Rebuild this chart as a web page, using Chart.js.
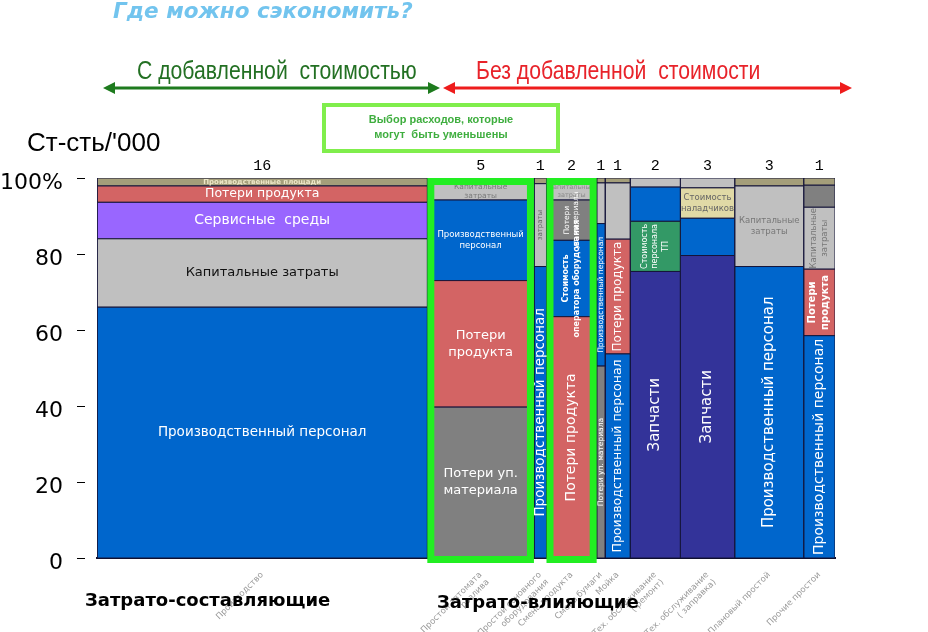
<!DOCTYPE html>
<html><head><meta charset="utf-8">
<script src="https://cdn.jsdelivr.net/npm/chart.js@4.4.1/dist/chart.umd.min.js"></script>
<style>
html,body{margin:0;padding:0;background:#fff;width:928px;height:632px;overflow:hidden;}
#wrap{position:relative;width:928px;height:632px;}
canvas{position:absolute;left:0;top:0;}
.t{position:absolute;white-space:nowrap;line-height:1;}
.n{transform:scaleX(0.815);transform-origin:0 0;}
</style></head><body>
<div id="wrap">
<canvas id="c" width="928" height="632"></canvas>
<div class="t" style="left:113px;top:-2px;font:italic bold 21.5px 'DejaVu Sans';color:#72c4ee;">Где можно сэкономить?</div>
<div class="t n" style="left:137px;top:55px;font:26px 'Liberation Sans';color:#237023;">С добавленной&nbsp; стоимостью</div>
<div class="t n" style="left:476px;top:55px;font:26px 'Liberation Sans';color:#e8232a;">Без добавленной&nbsp; стоимости</div>
<svg width="928" height="632" style="position:absolute;left:0;top:0;pointer-events:none">
  <line x1="112" y1="88" x2="431" y2="88" stroke="#1e7b1e" stroke-width="3"/>
  <polygon points="103,88 115,82 115,94" fill="#1e7b1e"/>
  <polygon points="440,88 428,82 428,94" fill="#1e7b1e"/>
  <line x1="452" y1="88" x2="843" y2="88" stroke="#ee1c1c" stroke-width="3"/>
  <polygon points="443,88 455,82 455,94" fill="#ee1c1c"/>
  <polygon points="852,88 840,82 840,94" fill="#ee1c1c"/>
</svg>
<div style="position:absolute;left:322px;top:103px;width:238px;height:50px;box-sizing:border-box;border:4px solid #80ee4c;text-align:center;font:bold 11px 'Liberation Sans';color:#3fae3f;line-height:15px;padding-top:5px;">Выбор расходов, которые<br>могут&nbsp; быть уменьшены</div>
<div class="t" style="left:27px;top:127px;font:26px 'Liberation Sans';color:#000;">Ст-сть/'000</div>
<div class="t" style="left:85px;top:589px;font:bold 18px 'DejaVu Sans';color:#000;">Затрато-составляющие</div>
<div class="t" style="left:437px;top:591px;font:bold 18px 'DejaVu Sans';color:#000;">Затрато-влияющие</div>
</div>
<script>
// ---------- DATA ----------
const colNames = [
  ['Производство'],
  ['Простой автомата', 'розлива'],
  ['Простой основного', 'оборудования'],
  ['Смена продукта'],
  ['Смена бумаги'],
  ['Мойка'],
  ['Тех. обслуживание', '( ремонт)'],
  ['Тех. обслуживание', '( заправка)'],
  ['Плановый простой'],
  ['Прочие простои']
];
const colWidths = [15.8, 5.1, 0.6, 2.4, 0.4, 1.2, 2.4, 2.6, 3.3, 1.5];
const colTotals = ['16', '5', '1', '2', '1', '1', '2', '3', '3', '1'];
const segValues = [
  [66, 18, 9.6, 4.3, 2.1],
  [39.7, 33.3, 21.2, 4.5, 1.3],
  [76.7, 21.8, 1.5],
  [63.5, 20.1, 10.6, 4.5, 1.3],
  [50.5, 37.5, 10.7, 1.3],
  [53.7, 30.2, 14.8, 1.3],
  [75.4, 13.2, 9.0, 2.4],
  [79.6, 9.8, 8.0, 2.6],
  [76.7, 21.2, 2.1],
  [58.5, 17.5, 16.3, 5.8, 1.9]
];
const segTypes = [
  ['Производственный персонал', 'Капитальные затраты', 'Сервисные среды', 'Потери продукта', 'Производственные площади'],
  ['Потери уп. материала', 'Потери продукта', 'Производственный персонал', 'Капитальные затраты', 'Производственные площади'],
  ['Производственный персонал', 'Капитальные затраты', 'Производственные площади'],
  ['Потери продукта', 'Стоимость оператора оборудования', 'Потери уп. материала', 'Капитальные затраты', 'Производственные площади'],
  ['Потери уп. материала', 'Производственный персонал', 'Капитальные затраты', 'Производственные площади'],
  ['Производственный персонал', 'Потери продукта', 'Капитальные затраты', 'Производственные площади'],
  ['Запчасти', 'Стоимость персонала ТП', 'Производственный персонал', 'Капитальные затраты'],
  ['Запчасти', 'Производственный персонал', 'Стоимость наладчиков', 'Капитальные затраты'],
  ['Производственный персонал', 'Капитальные затраты', 'Производственные площади'],
  ['Производственный персонал', 'Потери продукта', 'Капитальные затраты', 'Потери уп. материала', 'Производственные площади']
];
const segText = [
  ['Производственный персонал', 'Капитальные затраты', 'Сервисные  среды', 'Потери продукта', 'Производственные площади'],
  ['Потери уп.\nматериала', 'Потери\nпродукта', 'Производственный\nперсонал', 'Капитальные\nзатраты', null],
  ['Производственный персонал', 'затраты', null],
  ['Потери продукта', 'Стоимость\nоператора оборудования', 'Потери\nуп. материала', 'Капитальные\nзатраты', null],
  ['Потери уп. материала', 'Производственный персонал', null, null],
  ['Производственный персонал', 'Потери продукта', null, null],
  ['Запчасти', 'Стоимость\nперсонала\nТП', null, null],
  ['Запчасти', null, 'Стоимость\nналадчиков', null],
  ['Производственный персонал', 'Капитальные\nзатраты', null],
  ['Производственный персонал', 'Потери\nпродукта', 'Капитальные\nзатраты', null, null]
];

// ---------- STYLE ----------
const typeColors = {
  'Производственный персонал': '#0066cc',
  'Капитальные затраты': '#c0c0c0',
  'Сервисные среды': '#9966ff',
  'Потери продукта': '#d36464',
  'Производственные площади': '#a49e7a',
  'Потери уп. материала': '#808080',
  'Стоимость оператора оборудования': '#0066cc',
  'Запчасти': '#333399',
  'Стоимость персонала ТП': '#339966',
  'Стоимость наладчиков': '#e0d9a6'
};
// r: rotated, s: font size, c: colour, b: bold
const cellStyle = [
  [{s:13.5,c:'#fff'},{s:13,c:'#111'},{s:14,c:'#fff'},{s:12.5,c:'#fff'},{s:7,c:'#eee8c8',b:1}],
  [{s:13,c:'#fff'},{s:13,c:'#fff'},{s:8.5,c:'#fff'},{s:7.5,c:'#7a7a7a'},null],
  [{r:1,s:13.5,c:'#fff'},{r:1,s:7,c:'#666'},null],
  [{r:1,s:14,c:'#fff'},{r:1,s:8,c:'#fff',b:1},{r:1,s:7.5,c:'#fff'},{s:6.5,c:'#888'},null],
  [{r:1,s:7.5,c:'#fff'},{r:1,s:7.5,c:'#fff'},null,null],
  [{r:1,s:12.5,c:'#fff'},{r:1,s:12,c:'#fff'},null,null],
  [{r:1,s:15,c:'#fff'},{r:1,s:8,c:'#fff'},null,null],
  [{r:1,s:15,c:'#fff'},null,{s:8.5,c:'#666'},null],
  [{r:1,s:15,c:'#fff'},{s:8.5,c:'#777'},null],
  [{r:1,s:14,c:'#fff'},{r:1,s:10,c:'#fff',b:1},{r:1,s:8.5,c:'#777'},null,null]
];
const highlightCols = [1, 3];

// ---------- BUILD ----------
const total = colWidths.reduce((a, b) => a + b, 0);
const centers = [];
const datasets = [];
{
  let cx = 0;
  colWidths.forEach((w, i) => {
    centers.push(cx + w / 2);
    let cy = 0;
    segValues[i].forEach((v, j) => {
      const x0 = cx, x1 = cx + w, y0 = cy, y1 = cy + v;
      datasets.push({
        label: segTypes[i][j],
        data: [{x:x0,y:y0},{x:x1,y:y0},{x:x1,y:y1},{x:x0,y:y1},{x:x0,y:y0}],
        fill: 'shape',
        backgroundColor: typeColors[segTypes[i][j]],
        borderColor: '#15153a',
        borderWidth: 1,
        pointRadius: 0,
        pointHoverRadius: 0,
        tension: 0
      });
      cy += v;
    });
    cx += w;
  });
}

const labelsPlugin = {
  id: 'cellLabels',
  afterDatasetsDraw(chart) {
    const {ctx, chartArea} = chart;
    const xs = chart.scales.x, ys = chart.scales.y;
    let cx = 0;
    colWidths.forEach((w, i) => {
      const px0 = xs.getPixelForValue(cx), px1 = xs.getPixelForValue(cx + w);
      let cy = 0;
      segValues[i].forEach((v, j) => {
        const py0 = ys.getPixelForValue(cy), py1 = ys.getPixelForValue(cy + v);
        cy += v;
        const txt = segText[i][j], st = cellStyle[i][j];
        if (!txt || !st) return;
        const lines = txt.split('\n');
        ctx.save();
        ctx.translate((px0 + px1) / 2, (py0 + py1) / 2);
        if (st.r) ctx.rotate(-Math.PI / 2);
        ctx.font = (st.b ? 'bold ' : '') + st.s + 'px "DejaVu Sans"';
        ctx.fillStyle = st.c;
        ctx.textAlign = 'center';
        ctx.textBaseline = 'middle';
        const lh = st.s * 1.3;
        lines.forEach((l, k) => ctx.fillText(l, 0, (k - (lines.length - 1) / 2) * lh));
        ctx.restore();
      });
      ctx.save();
      ctx.font = '15px "Liberation Mono"';
      ctx.fillStyle = '#000';
      ctx.textAlign = 'center';
      ctx.textBaseline = 'middle';
      ctx.fillText(colTotals[i], (px0 + px1) / 2, chartArea.top - 12);
      ctx.restore();
      cx += w;
    });
    // highlight boxes
    highlightCols.forEach(i => {
      const x0 = colWidths.slice(0, i).reduce((a, b) => a + b, 0);
      const px0 = xs.getPixelForValue(x0), px1 = xs.getPixelForValue(x0 + colWidths[i]);
      const lw = 7;
      ctx.save();
      ctx.strokeStyle = '#22ee22';
      ctx.lineWidth = lw;
      ctx.strokeRect(px0 + lw / 2, chartArea.top + lw / 2, px1 - px0 - lw, chartArea.bottom + 5 - chartArea.top - lw);
      ctx.restore();
    });
  }
};

new Chart(document.getElementById('c'), {
  type: 'line',
  data: { datasets },
  options: {
    responsive: false,
    animation: false,
    devicePixelRatio: 1,
    layout: { padding: { top: 178, right: 93, bottom: 0, left: 0 } },
    plugins: { legend: { display: false }, tooltip: { enabled: false }, title: { display: false } },
    scales: {
      x: {
        type: 'linear', min: 0, max: total, offset: false,
        grid: { display: false },
        border: { display: true, color: '#101030', width: 2 },
        afterBuildTicks: s => { s.ticks = centers.map(v => ({ value: v })); },
        afterFit: s => { s.height = 74; },
        ticks: {
          autoSkip: false, minRotation: 45, maxRotation: 45, padding: 4,
          font: { size: 8.5, family: 'DejaVu Sans' }, color: '#9a9a9a',
          callback: (v, i) => colNames[i]
        }
      },
      y: {
        type: 'linear', min: 0, max: 100,
        grid: { display: true, drawOnChartArea: false, drawTicks: true, tickLength: 20, tickBorderDash: [8, 12], tickColor: '#000', tickWidth: 1 },
        border: { display: false },
        afterFit: s => { s.width = 97; },
        ticks: {
          stepSize: 20, padding: 14, labelOffset: 5,
          font: { size: 22, family: 'DejaVu Sans' }, color: '#000',
          callback: v => v === 100 ? '100%' : v
        }
      }
    }
  },
  plugins: [labelsPlugin]
});
</script>
</body></html>
